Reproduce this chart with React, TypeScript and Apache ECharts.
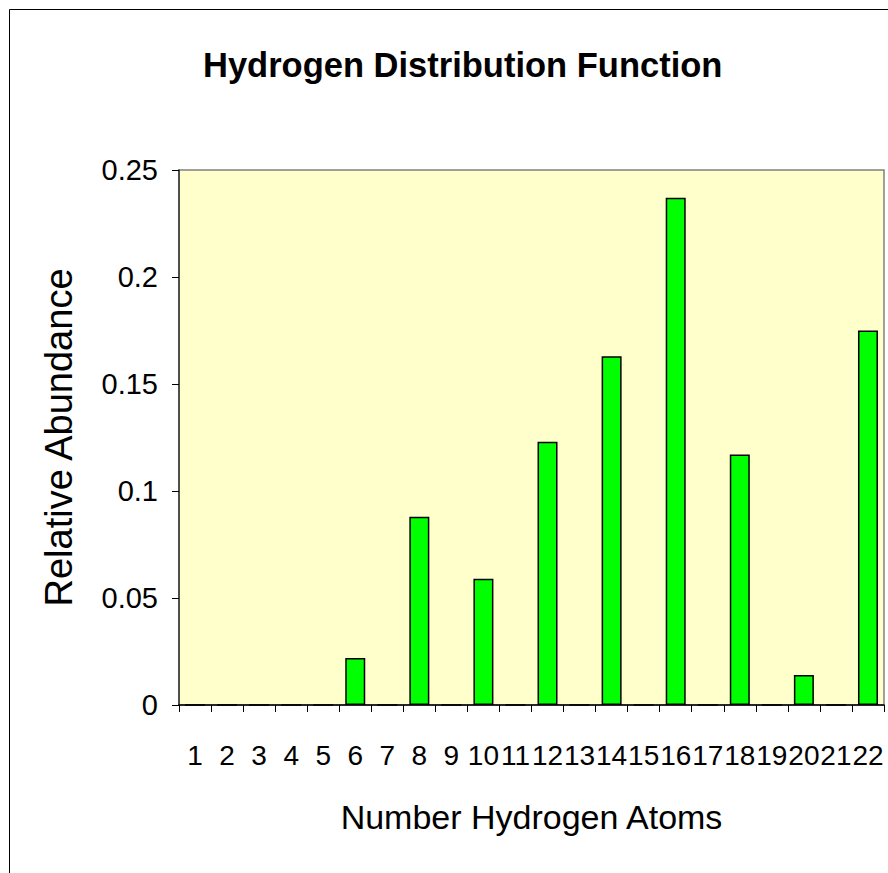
import React, { useEffect, useRef } from "react";
import * as echarts from "echarts";

const categories = ["1","2","3","4","5","6","7","8","9","10","11","12","13","14","15","16","17","18","19","20","21","22"];
const abundance = [0, 0, 0, 0, 0, 0.022, 0, 0.088, 0, 0.059, 0, 0.123, 0, 0.163, 0, 0.237, 0, 0.117, 0, 0.014, 0, 0.175];
const yTicks = { min: 0, max: 0.25, interval: 0.05 };
const titleText = "Hydrogen Distribution Function";
const xName = "Number Hydrogen Atoms";
const yName = "Relative Abundance";

const SANS = "'Liberation Sans', Arial, sans-serif";

export default function App() {
  const ref = useRef<HTMLDivElement>(null);
  useEffect(() => {
    if (!ref.current) return;
    const chart = echarts.init(ref.current, null, { renderer: "svg" });
    chart.setOption({
      animation: false,
      backgroundColor: "#ffffff",
      title: {
        text: titleText,
        left: 198,
        top: 42,
        textStyle: { fontFamily: SANS, fontWeight: "bold", fontSize: 34.5, color: "#000" },
      },
      graphic: [
        {
          type: "rect",
          shape: { x: 9.5, y: 9.5, width: 1000, height: 1000 },
          style: { fill: "none", stroke: "#000", lineWidth: 1 },
          silent: true,
        },
      ],
      grid: {
        left: 179,
        top: 170,
        width: 705,
        height: 535,
        show: true,
        backgroundColor: "#ffffcc",
        borderColor: "#808080",
        borderWidth: 1.5,
      },
      xAxis: {
        type: "category",
        data: categories,
        boundaryGap: true,
        name: xName,
        nameLocation: "middle",
        nameGap: 95,
        nameTextStyle: { fontFamily: SANS, fontSize: 34, color: "#000" },
        axisLine: { show: true, lineStyle: { color: "#000", width: 1.5 } },
        axisTick: { show: true, alignWithLabel: false, interval: 0, length: 7, lineStyle: { color: "#000", width: 1 } },
        axisLabel: { interval: 0, margin: 36, fontFamily: SANS, fontSize: 28, color: "#000" },
        splitLine: { show: false },
      },
      yAxis: {
        type: "value",
        min: yTicks.min,
        max: yTicks.max,
        interval: yTicks.interval,
        name: yName,
        nameLocation: "middle",
        nameGap: 101,
        nameRotate: 90,
        nameTextStyle: { fontFamily: SANS, fontSize: 38, color: "#000" },
        axisLine: { show: true, lineStyle: { color: "#333", width: 1.5 } },
        axisTick: { show: true, length: 7, lineStyle: { color: "#000", width: 1 } },
        axisLabel: { margin: 21, fontFamily: SANS, fontSize: 29, color: "#000" },
        splitLine: { show: false },
      },
      series: [
        {
          type: "bar",
          data: abundance,
          barWidth: 20,
          itemStyle: { color: "#00ff00", borderColor: "#000", borderWidth: 1.5 },
        },
      ],
    });
    return () => chart.dispose();
  }, []);
  return (
    <div
      ref={ref}
      style={{ position: "fixed", left: 0, top: 0, width: 888, height: 873 }}
    />
  );
}
